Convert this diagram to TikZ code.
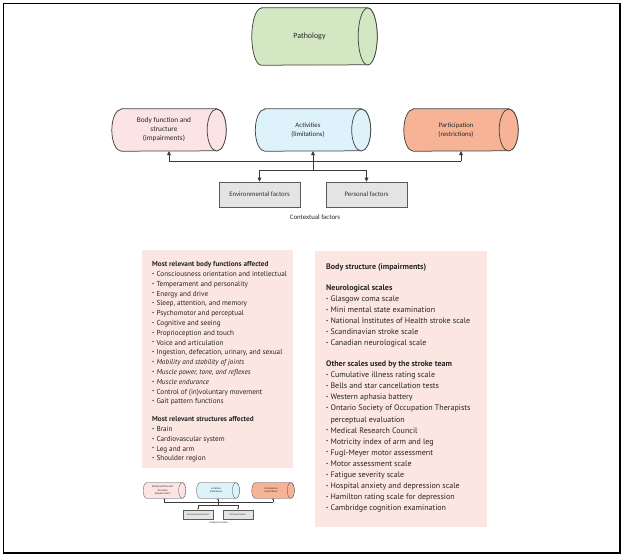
\documentclass[tikz,border=0pt]{standalone}
\usepackage{fontspec}
\setmainfont{PT Sans}
\newfontfamily\diagfont{Carlito}
\usetikzlibrary{arrows.meta}

\definecolor{pathg}{HTML}{D3E7C3}
\definecolor{bodyp}{HTML}{FCE4E4}
\definecolor{actc}{HTML}{DDF2FA}
\definecolor{partc}{HTML}{F6B396}
\definecolor{boxg}{HTML}{E4E4E4}
\definecolor{boxc}{HTML}{5A5A5A}
\definecolor{listp}{HTML}{FBE6E2}
\definecolor{cylc}{HTML}{454545}
\definecolor{connc}{HTML}{3A3A3A}

\def\icfs{1}
\pgfmathsetlengthmacro\icflw{0.75pt}
\pgfmathsetlengthmacro\icftl{4pt}
\pgfmathsetlengthmacro\icftw{3.8pt}

\newcommand\drawcyl[4]{%
  \draw[cylline, fill=#4] ([xshift=#2]#1.north west) -- ([xshift=-#2]#1.north east)
    arc[start angle=90, end angle=-90, x radius=#2, y radius=#3]
    -- ([xshift=#2]#1.south west)
    arc[start angle=270, end angle=90, x radius=#2, y radius=#3] -- cycle;
  \draw[cylline, fill=#4] ([xshift=-#2]#1.east) ellipse [x radius=#2, y radius=#3];
}
\newcommand\bl{\raisebox{.3ex}{\fontsize{4.8}{4.8}\selectfont •}\hspace{2.2pt}}

\tikzset{
  cylnode/.style={minimum height=42pt, inner sep=0pt, draw=none},
  cylline/.style={draw=cylc, line width=\icflw},
  conn/.style={draw=connc, line width=\icflw},
  arr/.style={-{Triangle[length=\icftl, width=\icftw]}},
  fbox/.style={draw=boxc, fill=boxg, line width=\icflw, minimum width=81pt,
    minimum height=25pt, inner sep=0pt, text=black!80,
    font=\diagfont\fontsize{6.8}{8}\selectfont},
  ctext/.style={align=center, inner sep=0pt, text=black!85,
    font=\diagfont\fontsize{7.3}{9}\selectfont},
  listbox/.style={fill=listp, draw=none, inner sep=0pt, anchor=north west},
  listtext/.style={align=left, inner sep=0pt, anchor=north west, text=black!85},
  icfrow/.pic={
    \pgfmathsetlengthmacro\icflw{0.75pt*\icfs}
    \pgfmathsetlengthmacro\icftl{4pt*\icfs}
    \pgfmathsetlengthmacro\icftw{3.8pt*\icfs}
    \node[cylnode, minimum width=114pt] (body) at (-144,-31) {};
    \drawcyl{body}{9.5pt}{21pt}{bodyp}
    \node[ctext] (bodyt) at ([xshift=-5pt]body.center)
      {Body function and\\structure\\(impairments)};
    \node[cylnode, minimum width=115pt] (act) at (0,-31) {};
    \drawcyl{act}{9.5pt}{21pt}{actc}
    \node[ctext, font=\diagfont\fontsize{6.8}{9}\selectfont] (actt) at ([xshift=-5pt]act.center)
      {Activities\\(limitations)};
    \node[cylnode, minimum width=114pt] (part) at (148,-31) {};
    \drawcyl{part}{9.5pt}{21pt}{partc}
    \node[ctext, font=\diagfont\fontsize{6.8}{9}\selectfont] (partt) at ([xshift=-5pt]part.center)
      {Participation\\(restrictions)};
    \coordinate (j) at (0,0);
    \coordinate (jm) at (0,9);
    \node[fbox] (env) at (-53.5,33.5) {Environmental factors};
    \node[fbox] (pers) at (53.5,33.5) {Personal factors};
    \node[ctext, font=\diagfont\fontsize{6.8}{8}\selectfont] (ctx) at (2,56) {Contextual factors};
    \draw[conn] (body.south |- j) -- (part.south |- j);
    \draw[conn, arr] (body.south |- j) -- (body.south);
    \draw[conn, arr] (part.south |- j) -- (part.south);
    \draw[conn, arr] (act.south |- jm) -- (act.south);
    \draw[conn] (env.north |- jm) -- (pers.north |- jm);
    \draw[conn, arr] (env.north |- jm) -- (env.north);
    \draw[conn, arr] (pers.north |- jm) -- (pers.north);
  }
}

\begin{document}
\begin{tikzpicture}[x=1pt, y=-1pt]
\useasboundingbox (0,0) rectangle (625,560);
\fill[white] (0,0) rectangle (625,560);
\draw[line width=1.3pt] (3.5,3.5) rectangle (620,553);

% Pathology
\node[cylnode, minimum width=125pt, minimum height=57pt] (path) at (314.5,36.5) {};
\drawcyl{path}{9.5pt}{28.5pt}{pathg}
\node[ctext, font=\diagfont\fontsize{8}{9}\selectfont] (patht) at ([xshift=-5pt]path.center) {Pathology};

% main ICF row
\pic (b) at (313,161) {icfrow};

% list boxes
\node[listbox, minimum width=151pt, minimum height=218pt] (lbox) at (142,250) {};
\node[listbox, minimum width=172pt, minimum height=276pt] (rbox) at (315,251) {};

\node[listtext, font=\fontsize{7.2}{9.8}\selectfont] (ltext) at (152,261.3) {%
\textbf{Most relevant body functions affected}\\
\bl Consciousness orientation and intellectual\\
\bl Temperament and personality\\
\bl Energy and drive\\
\bl Sleep, attention, and memory\\
\bl Psychomotor and perceptual\\
\bl Cognitive and seeing\\
\bl Proprioception and touch\\
\bl Voice and articulation\\
\bl Ingestion, defecation, urinary, and sexual\\
\bl \textit{Mobility and stability of joints}\\
\bl \textit{Muscle power, tone, and reflexes}\\
\bl \textit{Muscle endurance}\\
\bl Control of (in)voluntary movement\\
\bl Gait pattern functions\\[8pt]
\textbf{Most relevant structures affected}\\
\bl Brain\\
\bl Cardiovascular system\\
\bl Leg and arm\\
\bl Shoulder region};

\node[listtext, font=\fontsize{8}{11.05}\selectfont] (rtext) at (326,263.5) {%
\textbf{Body structure (impairments)}\\[10pt]
\textbf{Neurological scales}\\
\bl Glasgow coma scale\\
\bl Mini mental state examination\\
\bl National Institutes of Health stroke scale\\
\bl Scandinavian stroke scale\\
\bl Canadian neurological scale\\[10pt]
\textbf{Other scales used by the stroke team}\\
\bl Cumulative illness rating scale\\
\bl Bells and star cancellation tests\\
\bl Western aphasia battery\\
\bl Ontario Society of Occupation Therapists\\
\phantom{\bl}perceptual evaluation\\
\bl Medical Research Council\\
\bl Motricity index of arm and leg\\
\bl Fugl-Meyer motor assessment\\
\bl Motor assessment scale\\
\bl Fatigue severity scale\\
\bl Hospital anxiety and depression scale\\
\bl Hamilton rating scale for depression\\
\bl Cambridge cognition examination};

% thumbnail
\def\icfs{0.372}
\pic[scale=0.372, transform shape] (t) at (218,502) {icfrow};
\end{tikzpicture}
\end{document}
